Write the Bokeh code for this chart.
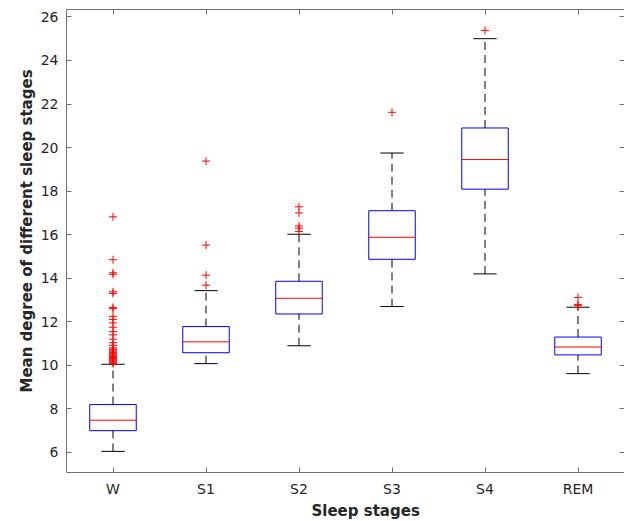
import numpy as np
from bokeh.plotting import figure
from bokeh.models import LinearAxis, FixedTicker, Range1d, ColumnDataSource, Title
from bokeh.embed import file_html
from bokeh.resources import INLINE

# ---- data ----
stages = ["W", "S1", "S2", "S3", "S4", "REM"]
q1 = [7.00, 10.58, 12.36, 14.87, 18.09, 10.48]
median = [7.48, 11.08, 13.08, 15.88, 19.45, 10.84]
q3 = [8.20, 11.78, 13.86, 17.10, 20.90, 11.30]
lower_whisker = [6.05, 10.08, 10.90, 12.70, 14.20, 9.62]
upper_whisker = [10.05, 13.43, 16.02, 19.75, 25.00, 12.67]

outliers_W = [16.82, 14.85, 14.25, 14.18, 13.38, 13.30, 12.66, 12.60, 12.25, 12.11,
              11.95, 11.75, 11.55, 11.40, 11.20, 11.04, 10.92, 10.80, 10.74, 10.70,
              10.65, 10.60, 10.56, 10.52, 10.48, 10.44, 10.40, 10.36, 10.32, 10.28,
              10.24, 10.20, 10.16, 10.12, 10.08]
outliers_S1 = [19.38, 15.52, 14.14, 13.68]
outliers_S2 = [17.28, 17.00, 16.40, 16.30, 16.15]
outliers_S3 = [21.62]
outliers_S4 = [25.38]
outliers_REM = [13.12, 12.80, 12.74]
outliers = [outliers_W, outliers_S1, outliers_S2, outliers_S3, outliers_S4, outliers_REM]

y_ticks = [6, 8, 10, 12, 14, 16, 18, 20, 22, 24, 26]
x_title = "Sleep stages"
y_title = "Mean degree of different sleep stages"

# ---- styling constants ----
BOX_HALF = 0.25
CAP_HALF = 0.125
AXIS_COLOR = "#707070"
TEXT_COLOR = "#262626"

pos = np.arange(1, len(stages) + 1, dtype=float)

src = ColumnDataSource(dict(
    x=pos,
    left=pos - BOX_HALF, right=pos + BOX_HALF,
    cl=pos - CAP_HALF, cr=pos + CAP_HALF,
    q1=q1, med=median, q3=q3, lo=lower_whisker, hi=upper_whisker,
))

ox, oy = [], []
for i, vals in enumerate(outliers):
    ox.extend([pos[i]] * len(vals))
    oy.extend(vals)
osrc = ColumnDataSource(dict(x=ox, y=oy))

p = figure(width=624, height=521, output_backend="svg", toolbar_location=None,
           x_range=Range1d(0.5, 6.5), y_range=Range1d(5.08, 26.34),
           min_border_left=66, min_border_right=0, min_border_top=9,
           min_border_bottom=49)

p.outline_line_color = None
p.grid.visible = False
p.background_fill_color = "white"
p.border_fill_color = "white"

# whiskers (dashed)
p.segment(x0="x", y0="q3", x1="x", y1="hi", source=src, line_color="black",
          line_width=1, line_dash="8 5")
p.segment(x0="x", y0="lo", x1="x", y1="q1", source=src, line_color="black",
          line_width=1, line_dash="8 5")
# caps
p.segment(x0="cl", y0="hi", x1="cr", y1="hi", source=src, line_color="black", line_width=1)
p.segment(x0="cl", y0="lo", x1="cr", y1="lo", source=src, line_color="black", line_width=1)
# boxes
p.quad(left="left", right="right", bottom="q1", top="q3", source=src,
       fill_color=None, line_color="#0000FF", line_width=1)
# medians
p.segment(x0="left", y0="med", x1="right", y1="med", source=src,
          line_color="#FF0000", line_width=1)
# outliers
p.scatter(x="x", y="y", source=osrc, marker="cross", size=8,
          line_color="#FF0000", line_width=1)

# axes
xa = p.xaxis[0]
xa.ticker = FixedTicker(ticks=list(pos))
xa.major_label_overrides = {float(v): s for v, s in zip(pos, stages)}
ya = p.yaxis[0]
ya.ticker = FixedTicker(ticks=y_ticks)

for ax in (xa, ya):
    ax.axis_line_color = AXIS_COLOR
    ax.major_tick_line_color = AXIS_COLOR
    ax.major_tick_in = 5
    ax.major_tick_out = 0
    ax.minor_tick_line_color = None
    ax.major_label_text_color = TEXT_COLOR
    ax.major_label_text_font = "DejaVu Sans"
    ax.major_label_text_font_size = "14px"
    ax.major_label_standoff = 8

# axis titles (the reference's are slightly off-centre, so use offset titles)
p.add_layout(Title(text=x_title, align="left", offset=245, standoff=0,
                   text_font="DejaVu Sans", text_font_style="bold",
                   text_font_size="15px", text_color=TEXT_COLOR), "below")
p.add_layout(Title(text=y_title, align="left", offset=80, standoff=4,
                   text_font="DejaVu Sans", text_font_style="bold",
                   text_font_size="15px", text_color=TEXT_COLOR), "left")

# box-style mirror axes: tick marks only (no labels) on top and right
top = LinearAxis(ticker=FixedTicker(ticks=[], minor_ticks=list(pos)),
                 axis_line_color=AXIS_COLOR, minor_tick_line_color=AXIS_COLOR,
                 minor_tick_in=5, minor_tick_out=0, major_tick_in=0, major_tick_out=0,
                 major_label_standoff=0)
p.add_layout(top, "above")
right = LinearAxis(ticker=FixedTicker(ticks=[], minor_ticks=y_ticks),
                   axis_line_color=None, minor_tick_line_color=AXIS_COLOR,
                   minor_tick_in=5, minor_tick_out=0, major_tick_in=0, major_tick_out=0,
                   major_label_standoff=0)
p.add_layout(right, "right")

open("out.html", "w").write(file_html(p, INLINE))
